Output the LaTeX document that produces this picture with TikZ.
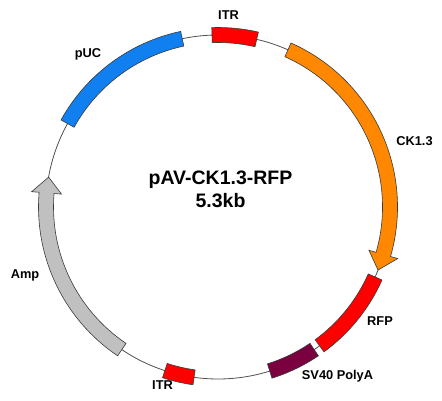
\documentclass[tikz,border=0pt]{standalone}
\usepackage{fontspec}
\setmainfont{Liberation Sans}
\definecolor{itrred}{HTML}{FF0000}
\definecolor{ckorange}{HTML}{FF8800}
\definecolor{pucblue}{HTML}{1080F0}
\definecolor{svmaroon}{HTML}{7A0040}
\definecolor{ampgray}{HTML}{C0C0C0}
\definecolor{edgegray}{HTML}{3A3A3A}
\definecolor{circgray}{HTML}{505050}
\newcommand{\pband}[3]{\filldraw[band, fill=#3] (#1:179.5) arc[start angle=#1, end angle=#2, radius=179.5] -- (#2:164.5) arc[start angle=#2, end angle=#1, radius=164.5] -- cycle;}
\newcommand{\parrow}[4]{\filldraw[band, fill=#4] (#1:179.5) arc[start angle=#1, end angle=#2, radius=179.5] -- (#2:187) -- (#3:172) -- (#2:157) -- (#2:164.5) arc[start angle=#2, end angle=#1, radius=164.5] -- cycle;}
\begin{document}
\begin{tikzpicture}[x=1pt,y=1pt,
  band/.style={draw=edgegray, line width=0.6pt, line join=miter},
  circline/.style={draw=circgray, line width=0.8pt},
  lbl/.style={font=\fontsize{12.8}{14}\selectfont\bfseries, anchor=base, inner sep=0pt},
  ttl/.style={font=\fontsize{19.5}{23}\selectfont\bfseries, anchor=base, inner sep=0pt}]
\useasboundingbox[fill=white] (0,0) rectangle (442,401);
\coordinate (C) at (218,194);
\draw[circline] (C) circle[radius=172];
\begin{scope}[shift={(C)}]
  \pband{77}{92}{itrred}
  \parrow{66}{-16}{-21.5}{ckorange}
  \pband{-24}{-53.8}{itrred}
  \pband{-56}{-72.5}{svmaroon}
  \pband{-98}{-108}{itrred}
  \parrow{236}{175.3}{170}{ampgray}
  \pband{102}{151}{pucblue}
\end{scope}
\node[lbl] (itrtop) at (228.5,381) {ITR};
\node[lbl] (puc) at (88,343) {pUC};
\node[lbl] (ck) at (414.5,255) {CK1.3};
\node[lbl] (amp) at (25,122) {Amp};
\node[lbl] (rfp) at (380,75) {RFP};
\node[lbl] (sv40) at (337.5,21) {SV40 PolyA};
\node[lbl] (itrbot) at (162.5,11) {ITR};
\node[ttl] (title) at (220.5,216) {pAV-CK1.3-RFP};
\node[ttl] (size) at (220.5,193) {5.3kb};
\end{tikzpicture}
\end{document}
